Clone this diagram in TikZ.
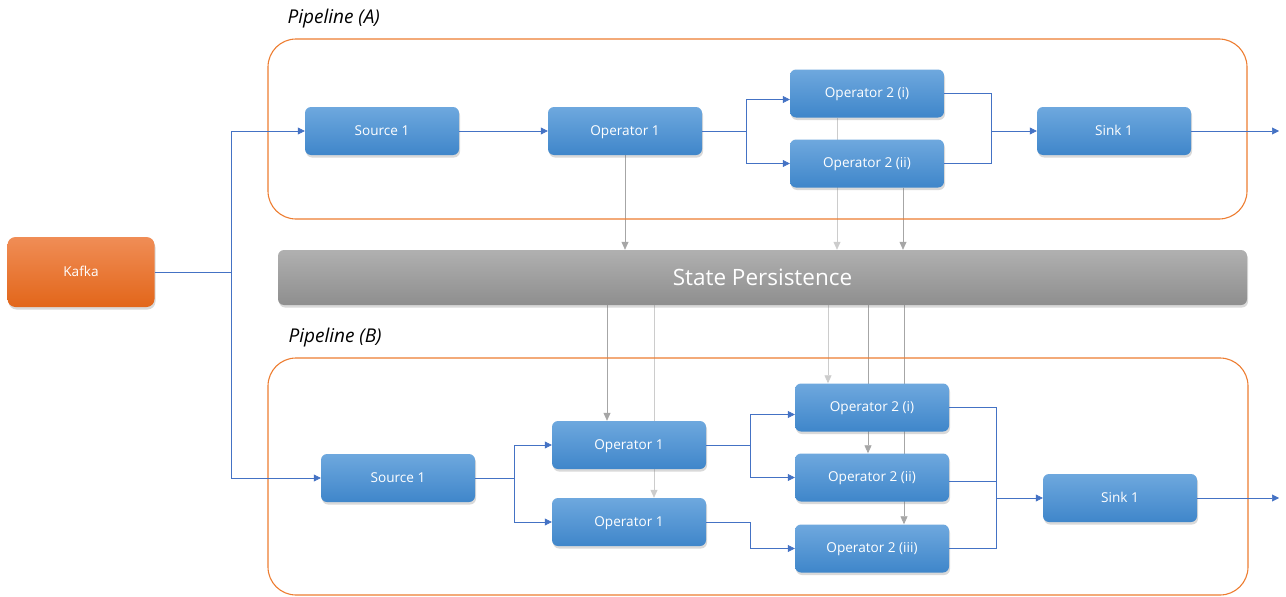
\documentclass[tikz,border=0pt]{standalone}
\usepackage{fontspec}
\setmainfont{Open Sans}
\usepackage{tikz}
\usetikzlibrary{positioning,arrows.meta,shadows,backgrounds,calc}
\definecolor{boxtop}{HTML}{6EA8DE}
\definecolor{boxbot}{HTML}{3F86CA}
\definecolor{kaftop}{HTML}{F08D56}
\definecolor{kafbot}{HTML}{E2661A}
\definecolor{sptop}{HTML}{B0B0B0}
\definecolor{spbot}{HTML}{8E8E8E}
\definecolor{pipe}{HTML}{ED7D31}
\definecolor{flowc}{HTML}{4472C4}

\begin{document}
\begin{tikzpicture}[x=1pt,y=-1pt,every node/.style={font=\fontsize{13.6}{16}\selectfont}]
    \tikzstyle{op}=[rounded corners=6pt,minimum width=154pt,minimum height=48pt,text=white,
                    top color=boxtop,bottom color=boxbot,text depth=1.5pt,
                    drop shadow={shadow xshift=1pt,shadow yshift=-2.5pt,opacity=0.3}];
    \tikzstyle{pipebox}=[draw=pipe,line width=1.1pt,rounded corners=28pt];
    \tikzstyle{lbl}=[anchor=west,font=\fontsize{19}{22}\selectfont\itshape];
    \tikzstyle{line}=[draw=flowc,line width=0.6pt];
    \tikzstyle{flow}=[line,-{Triangle[length=7pt,width=7pt]}];
    \tikzstyle{persist}=[draw=gray!70,line width=0.7pt,-{Triangle[length=8pt,width=7pt]}];
    \tikzstyle{faint}=[draw=gray!40];

    \useasboundingbox (0,0) rectangle (1286,597);

    % containers and state store
    \node[pipebox,minimum width=979pt,minimum height=180pt] (pipeA) at (757.5,129) {};
    \node[pipebox,minimum width=980pt,minimum height=237pt] (pipeB) at (758,476.5) {};
    \node[lbl] (labA) at (284,19) {Pipeline (A)};
    \node[lbl] (labB) at (285,338) {Pipeline (B)};
    \node[rounded corners=6pt,minimum width=969pt,minimum height=55pt,text=white,
          top color=sptop,bottom color=spbot,
          drop shadow={shadow xshift=1pt,shadow yshift=-2.5pt,opacity=0.3},
          font=\fontsize{22.5}{26}\selectfont] (sp) at (762.5,277.5) {State Persistence};

    \node[op,minimum width=147pt,minimum height=70pt,rounded corners=8pt,
          top color=kaftop,bottom color=kafbot] (kafka) at (81,272) {Kafka};

    % pipeline A
    \node[op] (sa)    at (382,131)   {Source 1};
    \node[op] (aop)   at (625,131)   {Operator 1};
    \node[op] (aopi)  at (867,93.5)  {Operator 2 (i)};
    \node[op] (aopii) at (867,163.5) {Operator 2 (ii)};
    \node[op] (ask)   at (1114,131)  {Sink 1};

    % pipeline B
    \node[op] (sb)     at (398,478)   {Source 1};
    \node[op] (bop)    at (629,445)   {Operator 1};
    \node[op] (bopb)   at (629,522)   {Operator 1};
    \node[op] (bopi)   at (872,407.5) {Operator 2 (i)};
    \node[op] (bopii)  at (872,477.5) {Operator 2 (ii)};
    \node[op] (bopiii) at (872,548.5) {Operator 2 (iii)};
    \node[op] (bsk)    at (1120,498)  {Sink 1};

    % state persistence links, behind the boxes
    \begin{scope}[on background layer]
      \draw[persist] (aop.south) -- (aop.south |- sp.north);
      \coordinate (pA2) at ($(aopi.south)+(-30,0)$);
      \draw[persist,faint] (pA2) -- (pA2 |- sp.north);
      \coordinate (pA3) at ($(aopii.south)+(36,0)$);
      \draw[persist] (pA3) -- (pA3 |- sp.north);

      \coordinate (pB1) at ($(bop.north)+(-22,0)$);
      \draw[persist] (pB1 |- sp.south) -- (pB1);
      \coordinate (pB2) at ($(bopb.north)+(25,0)$);
      \draw[persist,faint] (pB2 |- sp.south) -- (pB2);
      \coordinate (pB3) at ($(bopi.north)+(-44,0)$);
      \draw[persist,faint] (pB3 |- sp.south) -- (pB3);
      \coordinate (pB4) at ($(bopii.north)+(-4,0)$);
      \draw[persist] (pB4 |- sp.south) -- (pB4);
      \coordinate (pB5) at ($(bopiii.north)+(32,0)$);
      \draw[persist] (pB5 |- sp.south) -- (pB5);
    \end{scope}

    % kafka feeds both sources
    \coordinate (split) at (231,272);
    \draw[line] (kafka.east) -- (split);
    \draw[flow] (split) |- (sa.west);
    \draw[flow] (split) |- (sb.west);

    % flow in A
    \draw[flow] (sa) -- (aop);
    \coordinate (aforkA) at (746,131);
    \draw[line] (aop.east) -- (aforkA);
    \draw[flow] (aforkA) |- ([yshift=-6pt]aopi.west);
    \draw[flow] (aforkA) |- (aopii.west);
    \coordinate (ajoin) at (991,131);
    \draw[line] (aopi.east) -| (ajoin);
    \draw[line] (aopii.east) -| (ajoin);
    \draw[flow] (ajoin) -- (ask.west);
    \coordinate (aout) at (1279,131);
    \draw[flow] (ask.east) -- (aout);

    % flow in B
    \coordinate (bfork) at (514,478);
    \draw[line] (sb.east) -- (bfork);
    \draw[flow] (bfork) |- (bop.west);
    \draw[flow] (bfork) |- (bopb.west);
    \coordinate (bfork2) at (750,445);
    \draw[line] (bop.east) -- (bfork2);
    \draw[flow] (bfork2) |- ([yshift=-7pt]bopi.west);
    \draw[flow] (bfork2) |- (bopii.west);
    \coordinate (bfork3) at (750,522);
    \draw[line] (bopb.east) -- (bfork3);
    \draw[flow] (bfork3) |- (bopiii.west);
    \coordinate (bjoin) at (996,498);
    \draw[line] (bopi.east) -| (bjoin);
    \draw[line] ([yshift=-4pt]bopii.east) -| (bjoin);
    \draw[line] (bopiii.east) -| (bjoin);
    \draw[flow] (bjoin) -- (bsk.west);
    \coordinate (bout) at (1279,498);
    \draw[flow] (bsk.east) -- (bout);
\end{tikzpicture}
\end{document}
